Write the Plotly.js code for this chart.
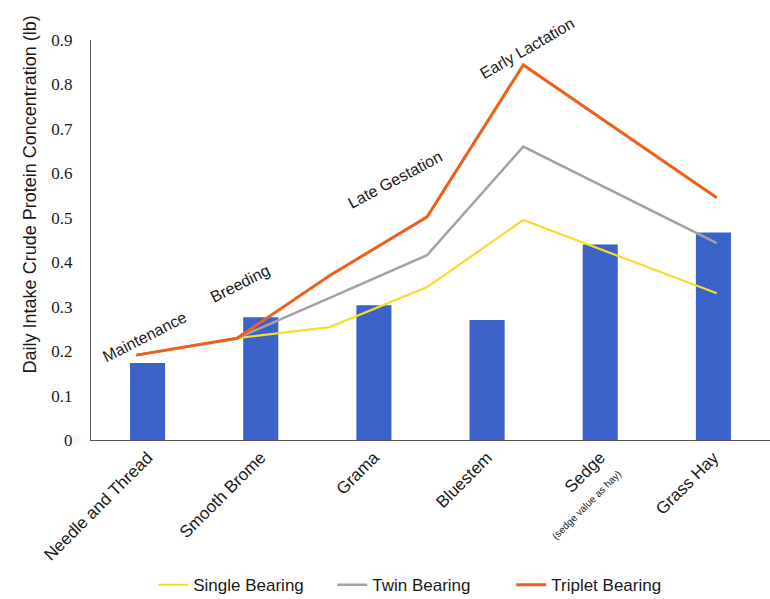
<!DOCTYPE html>
<html>
<head>
<meta charset="utf-8">
<script src="https://cdn.plot.ly/plotly-3.0.1.min.js"></script>
<style>html,body{margin:0;padding:0;background:#fff;}#chart{width:770px;height:599px;}</style>
</head>
<body>
<div id="chart"></div>
<script>
// Forage categories and bar values (lb)
var categories = ["Needle and Thread", "Smooth Brome", "Grama", "Bluestem", "Sedge", "Grass Hay"];
var tickLabels = ["Needle and Thread", "Smooth Brome", "Grama", "Bluestem",
  "Sedge<br><span style='font-size:10px'>(sedge value as hay)</span>", "Grass Hay"];
var forageValues = [0.173, 0.276, 0.303, 0.270, 0.440, 0.467];

// Y-axis ticks
var yTickValues = [0, 0.1, 0.2, 0.3, 0.4, 0.5, 0.6, 0.7, 0.8, 0.9];
var yTickLabels = ["0", "0.1", "0.2", "0.3", "0.4", "0.5", "0.6", "0.7", "0.8", "0.9"];

// Production stage positions along the x axis (category units) and requirement values
var stagePositions = [-0.10, 0.79, 1.61, 2.47, 3.32, 5.03];
var singleBearing  = [0.191, 0.229, 0.254, 0.344, 0.495, 0.330];
var twinBearing    = [0.191, 0.229, 0.320, 0.416, 0.660, 0.443];
var tripletBearing = [0.191, 0.229, 0.370, 0.502, 0.844, 0.545];

// Stage labels
var stageNames = ["Maintenance", "Breeding", "Late Gestation", "Early Lactation"];
var stageLabelX = [-0.02, 0.82, 2.19, 3.35];
var stageLabelY = [0.232, 0.352, 0.586, 0.882];
var stageLabelAngle = [-27, -27, -28, -30];

var catIndex = categories.map(function(_, i){ return i; });

var SANS = "'Liberation Sans', Arial, sans-serif";
var SERIF_CSS = "font-family:Liberation Serif,DejaVu Serif,serif";

var traces = [
  {type: "bar", x: catIndex, y: forageValues, width: 0.31,
   marker: {color: "#3a62c8"}, showlegend: false, hoverinfo: "y"},
  {type: "scatter", mode: "lines", name: "Single Bearing", x: stagePositions, y: singleBearing,
   line: {color: "#f7dc2a", width: 2.2}},
  {type: "scatter", mode: "lines", name: "Twin Bearing", x: stagePositions, y: twinBearing,
   line: {color: "#a3a3a3", width: 2.5}},
  {type: "scatter", mode: "lines", name: "Triplet Bearing", x: stagePositions, y: tripletBearing,
   line: {color: "#ef5f1c", width: 3}}
];

var annotations = stageNames.map(function(t, i){
  return {text: t, x: stageLabelX[i], y: stageLabelY[i], xref: "x", yref: "y",
    showarrow: false, textangle: stageLabelAngle[i],
    font: {family: SANS, size: 16, color: "#1a1a1a"}};
});
annotations.push({
  text: "Daily Intake Crude Protein Concentration (lb)",
  xref: "paper", yref: "paper", x: -0.1075, y: 0.614, textangle: -90, showarrow: false,
  font: {family: SANS, size: 18, color: "#1a1a1a"}
});

var layout = {
  width: 770, height: 599,
  margin: {l: 91, r: 0, t: 40, b: 159},
  paper_bgcolor: "#ffffff", plot_bgcolor: "#ffffff",
  font: {family: SANS},
  showlegend: true,
  legend: {orientation: "h", xref: "container", yref: "container", x: 0.199, y: 0.023,
    xanchor: "left", yanchor: "middle", itemwidth: 30, entrywidth: 134, entrywidthmode: "pixels",
    tracegroupgap: 0,
    font: {family: SANS, size: 17, color: "#1a1a1a"}},
  xaxis: {
    range: [-0.5, 5.5], tickmode: "array", tickvals: catIndex, ticktext: tickLabels,
    tickangle: -45, showgrid: false, zeroline: false, showline: true, linecolor: "#555", linewidth: 1,
    ticks: "", fixedrange: true,
    tickfont: {family: SANS, size: 17, color: "#1a1a1a"}
  },
  yaxis: {
    range: [0, 0.9], tickmode: "array", tickvals: yTickValues,
    ticktext: yTickLabels.map(function(s){ return "<span style='" + SERIF_CSS + "'>" + s + "</span>"; }),
    showgrid: false, zeroline: false,
    showline: true, linecolor: "#555", linewidth: 1, ticks: "", ticklabelstandoff: 14,
    tickfont: {family: "Liberation Serif", size: 17, color: "#1a1a1a"}
  },
  annotations: annotations
};

Plotly.newPlot("chart", traces, layout, {displayModeBar: false, staticPlot: true});
</script>
</body>
</html>
